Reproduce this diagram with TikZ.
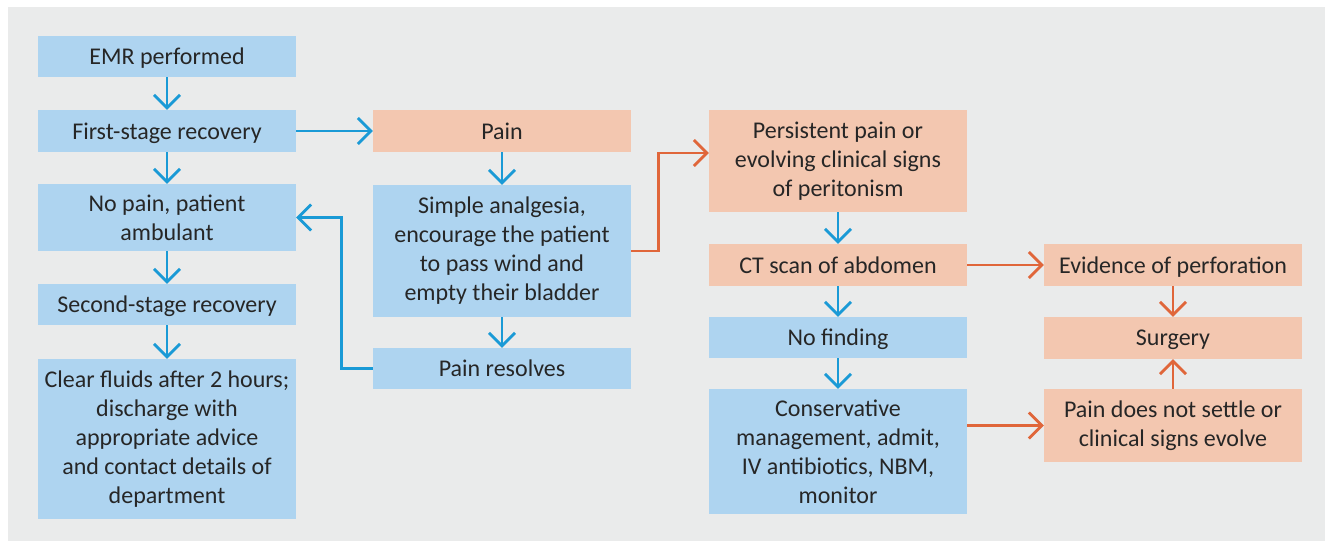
\documentclass[tikz,border=0pt]{standalone}
\usepackage{fontspec}
\setmainfont{Carlito}
\usetikzlibrary{arrows.meta}
\definecolor{bgray}{HTML}{EAEBEB}
\definecolor{bluebox}{HTML}{AED4F0}
\definecolor{orangebox}{HTML}{F3C7B0}
\definecolor{bluearrow}{HTML}{1A9AD6}
\definecolor{orangearrow}{HTML}{E0663A}
\definecolor{txt}{HTML}{262626}
\tikzset{
  box/.style={inner sep=0pt, minimum width=258pt, align=center, text=txt,
    font=\fontsize{24pt}{29pt}\selectfont},
  bbox/.style={box, fill=bluebox},
  obox/.style={box, fill=orangebox},
  oneline/.style={text depth=0pt},
  conn/.style={line width=2.8pt, -{Straight Barb[length=13pt,width=26pt,line width=2.8pt]}},
  bconn/.style={conn, draw=bluearrow},
  oconn/.style={conn, draw=orangearrow},
}
\begin{document}
\begin{tikzpicture}[x=1pt,y=-1pt]
\useasboundingbox (0,0) rectangle (1325,543);
\fill[white] (0,0) rectangle (1325,543);
\fill[bgray] (8,7) rectangle (1325,541);
% column 1
\node[bbox, oneline, minimum height=41.5pt] (A) at (167,56.5) {EMR performed};
\node[bbox, oneline, minimum height=42pt] (B) at (167,131) {First-stage recovery};
\node[bbox, minimum height=67pt] (C) at (167,217.5) {No pain, patient\\ambulant};
\node[bbox, oneline, minimum height=41pt] (D) at (167,304.5) {Second-stage recovery};
\node[bbox, minimum height=160pt] (E) at (167,439) {Clear fluids after 2 hours;\\discharge with\\appropriate advice\\and contact details of\\department};
% column 2
\node[obox, oneline, minimum height=42pt] (P) at (502,131) {Pain};
\node[bbox, minimum height=132pt] (S) at (502,251) {Simple analgesia,\\encourage the patient\\to pass wind and\\empty their bladder};
\node[bbox, oneline, minimum height=41pt] (R) at (502,368.5) {Pain resolves};
% column 3
\node[obox, minimum height=102pt] (Q) at (838,161) {Persistent pain or\\evolving clinical signs\\of peritonism};
\node[obox, oneline, minimum height=42pt] (T) at (838,265) {CT scan of abdomen};
\node[bbox, oneline, minimum height=41pt] (N) at (838,337.5) {No finding};
\node[bbox, minimum height=125pt] (K) at (838,451.5) {Conservative\\management, admit,\\IV antibiotics, NBM,\\monitor};
% column 4
\node[obox, oneline, minimum height=42pt] (V) at (1173,265) {Evidence of perforation};
\node[obox, oneline, minimum height=42pt] (G) at (1173,338) {Surgery};
\node[obox, minimum height=73pt] (U) at (1173,425.5) {Pain does not settle or\\clinical signs evolve};
% connectors
\draw[bconn] (A) -- (B);
\draw[bconn] (B) -- (C);
\draw[bconn] (C) -- (D);
\draw[bconn] (D) -- (E);
\draw[bconn] (B) -- (P);
\draw[bconn] (P) -- (S);
\draw[bconn] (S) -- (R);
\draw[bconn] (R.west) -- ++(-31,0) |- (C.east);
\draw[oconn] (S.east) -- ++(27,0) |- ([yshift=8pt]Q.west);
\draw[bconn] (Q) -- (T);
\draw[bconn] (T) -- (N);
\draw[bconn] (N) -- (K);
\draw[oconn] (T) -- (V);
\draw[oconn] (K.east |- U.west) -- (U.west);
\draw[oconn] (V) -- (G);
\draw[oconn] (U) -- (G);
\end{tikzpicture}
\end{document}
